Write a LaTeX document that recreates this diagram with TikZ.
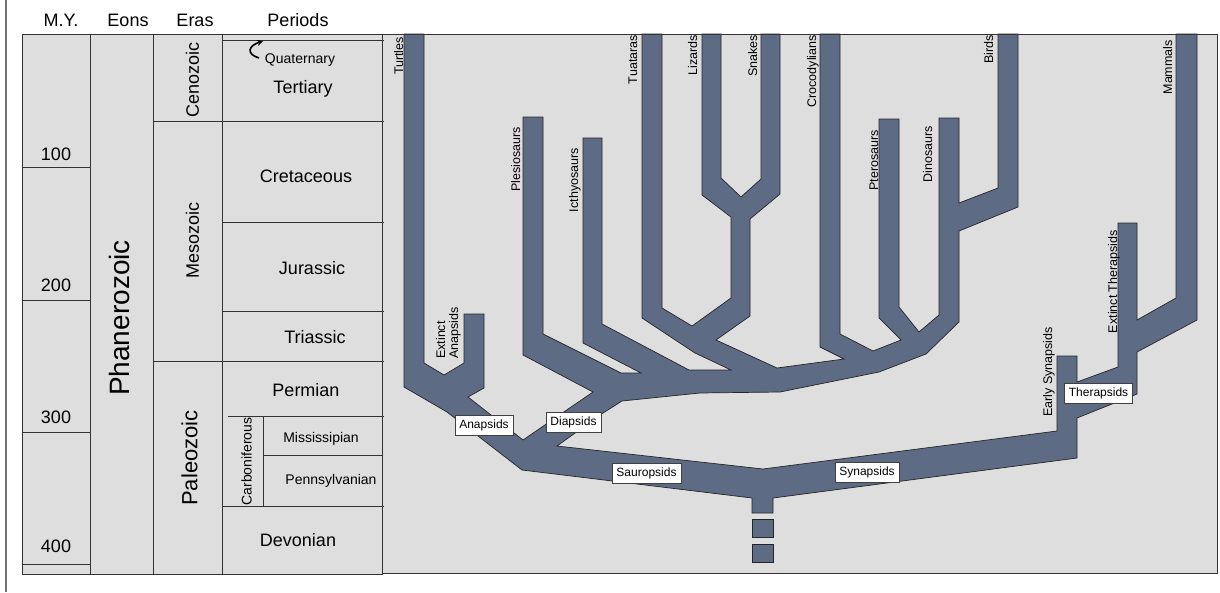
\documentclass[tikz,border=0pt]{standalone}
\usepackage{fontspec}
\setmainfont{Liberation Sans}
\usetikzlibrary{arrows.meta}
\definecolor{tablegrey}{HTML}{DEDEDE}
\definecolor{treeblue}{HTML}{5E6B85}
\definecolor{rulegrey}{HTML}{333333}
\tikzset{
  rule/.style={draw=rulegrey, line width=0.8pt},
  hdr/.style={font=\fontsize{18}{20}\selectfont, anchor=base, inner sep=0pt},
  minor/.style={font=\fontsize{14}{16}\selectfont, anchor=base, inner sep=0pt},
  taxon/.style={font=\fontsize{12.5}{13}\selectfont, rotate=90, anchor=base east, inner sep=0pt},
  clade/.style={draw=black!75, fill=white, font=\fontsize{12}{14}\selectfont,
    minimum height=20pt, inner xsep=4.5pt, inner ysep=0pt},
  branch/.style={fill=treeblue, draw=black!85, line width=0.7pt, line join=miter}
}
\begin{document}
\begin{tikzpicture}[x=1pt,y=-1pt]
\useasboundingbox (0,0) rectangle (1220,592);
\draw[black!55, line width=1.2pt] (6,0) -- (6,592);

% time table
\fill[tablegrey] (22,34) rectangle (1217,574);
\draw[rule] (22,34) rectangle (90,574);
\draw[rule] (90,34) rectangle (153,574);
\draw[rule] (153,34) rectangle (222,574);
\draw[rule] (222,34) rectangle (382,574);
\foreach \y in {167,300,432,564} \draw[rule] (22,\y) -- (90,\y);
\foreach \y in {121,361} \draw[rule] (153,\y) -- (384,\y);
\foreach \y in {40,222,311,506} \draw[rule] (222,\y) -- (384,\y);
\draw[rule] (228,416) -- (384,416);
\draw[rule] (263,455) -- (382,455);
\draw[rule] (263,416) -- (263,506);

\node[hdr] (myhead) at (61,26) {M.Y.};
\node[hdr] (eonhead) at (128,26) {Eons};
\node[hdr] (erahead) at (195,26) {Eras};
\node[hdr] (perhead) at (298,26) {Periods};
\foreach \v/\y in {100/160,200/291,300/423,400/552}
  \node[hdr] (my\v) at (56,\y) {\v};

\node[font=\fontsize{28}{30}\selectfont, rotate=90, inner sep=0pt] (phan) at (119,318) {Phanerozoic};
\node[font=\fontsize{18}{20}\selectfont, rotate=90, inner sep=0pt] (ceno) at (192.5,80) {Cenozoic};
\node[font=\fontsize{18}{20}\selectfont, rotate=90, inner sep=0pt] (meso) at (192.5,240) {Mesozoic};
\node[font=\fontsize{22}{24}\selectfont, rotate=90, inner sep=0pt] (paleo) at (189.5,458) {Paleozoic};
\node[minor, rotate=90, anchor=center] (carb) at (246.5,461.5) {Carboniferous};

\node[minor] (quat) at (300,63) {Quaternary};
\draw[-{Stealth[length=6pt,width=6pt]}, line width=1.6pt] (259,58) .. controls (246,54) and (248,46) .. (263,41);
\node[hdr] (tert) at (303,93) {Tertiary};
\node[hdr] (cret) at (306,182) {Cretaceous};
\node[hdr] (jura) at (312,274) {Jurassic};
\node[hdr] (tria) at (315,343) {Triassic};
\node[hdr] (perm) at (306,396) {Permian};
\node[minor] (miss) at (321,442) {Mississipian};
\node[minor] (penn) at (331,484) {Pennsylvanian};
\node[hdr] (devo) at (298,546) {Devonian};

% tree
\draw[branch] (404,34) -- (424,34) -- (424,363) -- (444,375) -- (464,363) -- (464,314)
  -- (484,314) -- (484,388) -- (468,397) -- (523,440) -- (593,392) -- (523,355)
  -- (523,117) -- (543,117) -- (543,334) -- (621,373) -- (641,373) -- (583,343)
  -- (583,138) -- (602,138) -- (602,324) -- (689,370) -- (731,370) -- (695,353)
  -- (642,318) -- (642,34) -- (662,34) -- (662,308) -- (692,326) -- (731,298)
  -- (731,217) -- (702,195) -- (702,34) -- (721,34) -- (721,178) -- (741,197)
  -- (761,179) -- (761,34) -- (780,34) -- (780,194) -- (750,219) -- (750,316)
  -- (716,340) -- (777,368) -- (844,359) -- (820,347) -- (820,34) -- (840,34)
  -- (840,334) -- (873,351) -- (901,340) -- (879,318) -- (879,119) -- (899,119)
  -- (899,307) -- (919,332) -- (939,315) -- (939,118) -- (959,118) -- (959,203)
  -- (998,188) -- (998,34) -- (1018,34) -- (1018,207) -- (959,231) -- (959,322)
  -- (926,354) -- (879,372) -- (780,392) -- (700,393) -- (622,401) -- (603,413)
  -- (557,446) -- (763,469) -- (1057,431) -- (1057,356) -- (1077,356) -- (1077,382)
  -- (1118,367) -- (1118,223) -- (1137,223) -- (1137,320) -- (1176,298) -- (1176,34)
  -- (1197,34) -- (1197,320) -- (1137,352) -- (1137,394) -- (1077,418) -- (1077,458)
  -- (773,498) -- (773,513) -- (752,513) -- (752,498) -- (522,470) -- (447,412)
  -- (404,387) -- cycle;
\draw[branch] (752,519) rectangle (773,537);
\draw[branch] (752,544) rectangle (773,562);
\draw[rule] (382,34) rectangle (1217,573);

\node[taxon] (turtles) at (403,37) {Turtles};
\node[taxon] (plesio) at (520,127) {Plesiosaurs};
\node[taxon] (icthy) at (578,148) {Icthyosaurs};
\node[taxon] (tuatara) at (637,35) {Tuataras};
\node[taxon] (lizards) at (697,35) {Lizards};
\node[taxon] (snakes) at (757,35) {Snakes};
\node[taxon] (croc) at (816,35) {Crocodylians};
\node[taxon] (ptero) at (878,130) {Pterosaurs};
\node[taxon] (dino) at (932,126) {Dinosaurs};
\node[taxon] (birds) at (993,35) {Birds};
\node[taxon] (mammals) at (1172,40) {Mammals};
\node[taxon] (exther) at (1117,230) {Extinct Therapsids};
\node[taxon] (earlysyn) at (1052,327) {Early Synapsids};
\node[taxon, align=left, anchor=south west] (exana) at (461,359) {Extinct\\Anapsids};

\node[clade] (anap) at (484,425) {Anapsids};
\node[clade] (diap) at (573.5,422.5) {Diapsids};
\node[clade] (saur) at (646.5,473.5) {Sauropsids};
\node[clade] (syna) at (867,472.5) {Synapsids};
\node[clade] (ther) at (1098.5,393.5) {Therapsids};
\end{tikzpicture}
\end{document}
